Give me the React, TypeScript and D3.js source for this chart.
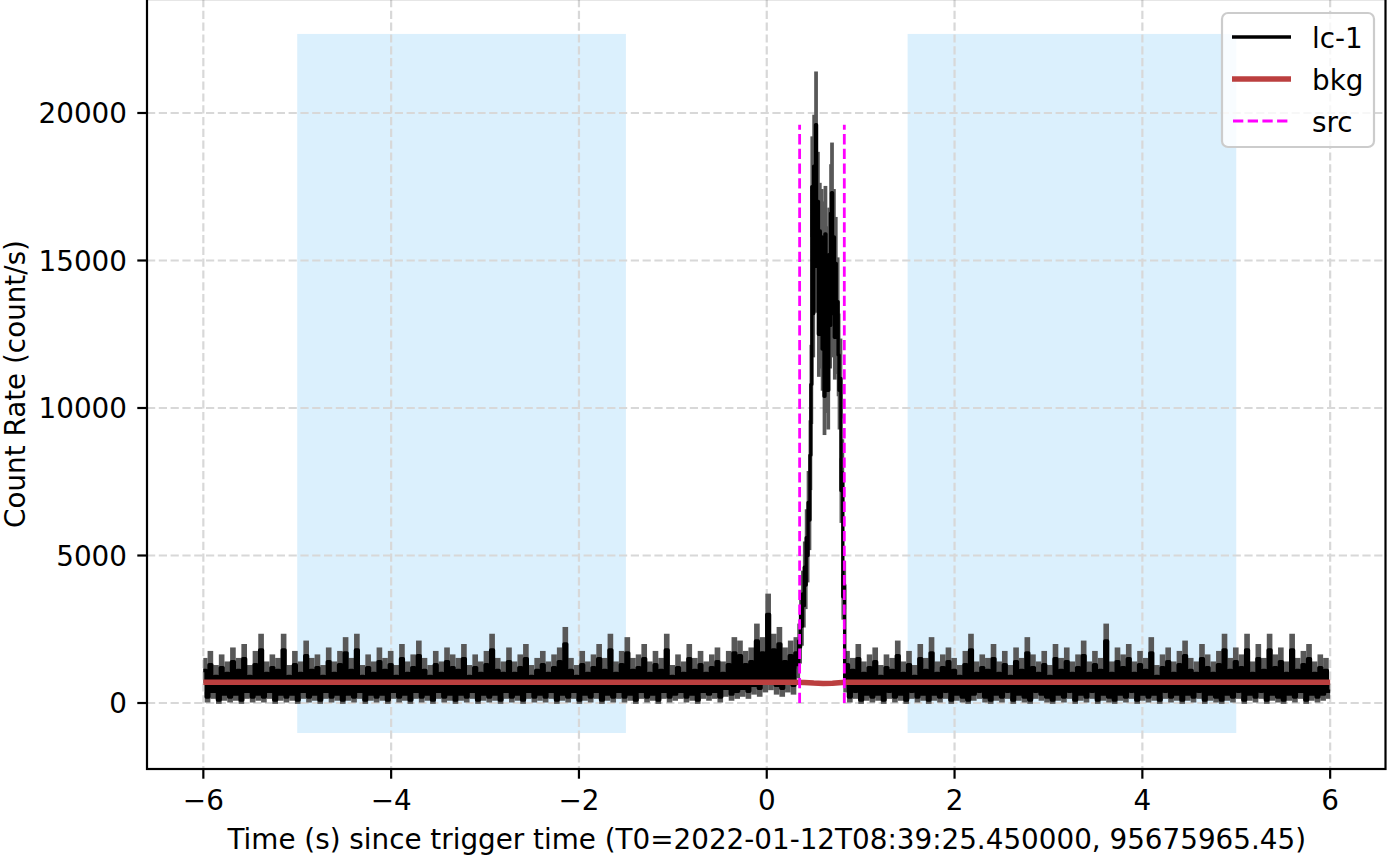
import React from "react";
import * as d3 from "d3";

// ---------------- data ----------------
// light curve "lc-1" (count/s), three contiguous segments with their own bin width
const SEG_A_START = -6.0;
const SEG_A_DT = 0.03;
const segA = [
  1100, 200, 1300, 400, 900, 100, 1200, 300, 1000, 200,
  1400, 300, 1100, 100, 1500, 400, 900, 200, 1300, 300,
  1800, 200, 1000, 400, 1200, 100, 1100, 300, 1800, 200,
  900, 300, 1300, 100, 1000, 400, 1600, 200, 1100, 300,
  1200, 100, 900, 400, 1400, 200, 1000, 300, 1300, 100,
  1700, 300, 1100, 200, 1800, 400, 900, 100, 1200, 300,
  1000, 200, 1400, 300, 1100, 100, 1300, 400, 900, 200,
  1500, 300, 1000, 100, 1200, 400, 1600, 200, 1100, 300,
  900, 100, 1300, 400, 1000, 200, 1400, 300, 1200, 100,
  1100, 300, 1500, 200, 900, 400, 1200, 100, 1000, 300,
  1300, 200, 1800, 300, 1100, 100, 1000, 400, 1400, 200,
  1000, 300, 1200, 100, 1500, 400, 900, 200, 1100, 300,
  1300, 200, 1000, 400, 1200, 100, 1400, 300, 2000, 200,
  1100, 400, 900, 100, 1300, 300, 1000, 200, 1200, 400,
  1500, 100, 1100, 300, 1800, 200, 1000, 400, 1300, 200,
  1700, 300, 1100, 100, 1200, 400, 1500, 200, 1000, 300,
  1300, 100, 1100, 400, 1800, 200, 900, 300, 1200, 400,
  1000, 200, 1500, 300, 1100, 100, 1300, 400, 1000, 300,
  1200, 400, 1400, 200, 1000, 500, 1300, 300, 1700, 400,
  1600, 500, 1300, 400, 1400, 600, 2100, 500, 1700, 700,
  3000, 800, 1800, 600, 2000, 500, 1400, 700, 1600, 600,
  1700,
];

const SEG_B_START = 0.33;
const SEG_B_DT = 0.01;
const segB = [
  1300, 2100, 1900, 3000, 2600, 3700, 3300, 4600, 4000, 5600,
  5000, 6800, 6200, 8400, 10800, 17500, 13200, 18200, 14800, 19600,
  15500, 17000, 12500, 16000, 12800, 15800, 12000, 15400, 10400, 15900,
  11200, 14600, 10600, 15200, 12800, 16600, 17300, 13200, 15800, 12400,
  14900, 12600, 13600, 11800, 10600, 11000, 7200, 7800, 3600, 4000,
  700,
];

const SEG_C_START = 0.84;
const SEG_C_DT = 0.03;
const segC = [
  1300, 200, 1100, 400, 1500, 100, 1000, 300, 1200, 200,
  1400, 300, 900, 100, 1200, 400, 1100, 200, 1600, 300,
  1000, 100, 1300, 400, 900, 200, 1500, 300, 1100, 100,
  1700, 300, 1000, 200, 1200, 400, 1400, 100, 1100, 300,
  900, 200, 1300, 100, 1800, 300, 1000, 400, 1200, 200,
  1100, 100, 1500, 300, 1000, 200, 1300, 400, 900, 100,
  1400, 300, 1100, 200, 1700, 100, 1200, 400, 1000, 300,
  1300, 200, 900, 100, 1500, 300, 1100, 200, 1400, 400,
  1000, 100, 1200, 300, 1600, 200, 1000, 400, 1300, 100,
  1100, 300, 2100, 200, 1000, 100, 1400, 300, 1200, 200,
  1500, 400, 1000, 100, 1300, 300, 1100, 200, 1700, 300,
  900, 100, 1200, 400, 1400, 200, 1000, 300, 1300, 100,
  1600, 300, 1100, 200, 1000, 400, 1500, 100, 1200, 300,
  1000, 200, 1300, 100, 1800, 300, 1100, 200, 1400, 400,
  1200, 100, 1800, 300, 1000, 200, 1500, 400, 1100, 100,
  1800, 300, 1200, 200, 1400, 100, 1000, 300, 1800, 200,
  1100, 400, 1300, 100, 1500, 300, 1000, 200, 1200, 300,
  1100, 400,
];

// exposure of the original (fine) bins used for the Poisson error bars
const BIN_EXPOSURE = 0.006;

// background fit (count/s)
const bkgTimes = [-6, 0.3, 0.4, 0.5, 0.6, 0.7, 0.8, 0.86, 6];
const bkgRates = [705, 705, 695, 675, 665, 670, 695, 705, 705];

// selected intervals
const srcInterval = [0.35, 0.826];
const bkgIntervals = [
  [-5, -1.5],
  [1.5, 5],
];
const bkgSpanRates = [-1017, 22680];

const xTicks = [-6, -4, -2, 0, 2, 4, 6];
const yTicks = [0, 5000, 10000, 15000, 20000];
const xLabel =
  "Time (s) since trigger time (T0=2022-01-12T08:39:25.450000, 95675965.45)";
const yLabel = "Count Rate (count/s)";
const legendLabels = ["lc-1", "bkg", "src"];

// ---------------- layout ----------------
const W = 1387;
const H = 856;
const PL = 147;
const PR = 1386.5;
const PT = -1;
const PB = 769;
const FONT = "'DejaVu Sans', 'Liberation Sans', sans-serif";
const FS = 27.8;

type Bin = { t0: number; t1: number; v: number; pad: number };

function makeBins(start: number, dt: number, vals: number[], pad: number): Bin[] {
  return vals.map((v, i) => ({
    t0: +(start + i * dt).toFixed(4),
    t1: +(start + (i + 1) * dt).toFixed(4),
    v,
    pad: pad * dt,
  }));
}

export default function App() {
  const bins: Bin[] = [
    ...makeBins(SEG_A_START, SEG_A_DT, segA, 0.5),
    ...makeBins(SEG_B_START, SEG_B_DT, segB, 1.5),
    ...makeBins(SEG_C_START, SEG_C_DT, segC, 0.5),
  ];

  const x = d3.scaleLinear().domain([-6.6, 6.6]).range([PL, PR]);
  const y = d3.scaleLinear().domain([-2237, 23864]).range([PB, PT]);

  const err = (v: number) => Math.sqrt(Math.max(v, 0) / BIN_EXPOSURE);

  const stepPts: [number, number][] = bins.map((b) => [b.t0, b.v]);
  const last = bins[bins.length - 1];
  stepPts.push([last.t1, last.v]);
  const stepLine = d3
    .line<[number, number]>()
    .x((d) => x(d[0]))
    .y((d) => y(d[1]))
    .curve(d3.curveStepAfter);

  const bkgLine = d3
    .line<number>()
    .x((_, i) => x(bkgTimes[i]))
    .y((d) => y(d));

  const srcTop = d3.max(bins, (b) => b.v) as number;
  const tMin = bins[0].t0;
  const tMax = last.t1;

  const gridColor = "#d8d8d8";
  const gray = "#585858";
  const red = "#bb3f3f";
  const magenta = "#ff00ff";

  // legend
  const lgX = 1222;
  const lgY = 13;
  const lgW = 152;
  const lgH = 134;
  const handleY = [37, 79, 121];

  return (
    <div style={{ position: "absolute", left: 0, top: 0 }}>
      <svg width={W} height={H} style={{ display: "block", background: "#fff" }}>
        <defs>
          <clipPath id="plotclip">
            <rect x={PL} y={PT} width={PR - PL} height={PB - PT} />
          </clipPath>
        </defs>
        <rect x={0} y={0} width={W} height={H} fill="#fff" />
        <g clipPath="url(#plotclip)">
          {/* background intervals */}
          {bkgIntervals.map((iv, i) => (
            <rect
              key={"span" + i}
              x={x(iv[0])}
              y={y(bkgSpanRates[1])}
              width={x(iv[1]) - x(iv[0])}
              height={y(bkgSpanRates[0]) - y(bkgSpanRates[1])}
              fill="rgb(219,240,253)"
            />
          ))}
          {/* grid */}
          {xTicks.map((t) => (
            <line
              key={"gx" + t}
              x1={x(t)}
              x2={x(t)}
              y1={PT}
              y2={PB}
              stroke={gridColor}
              strokeWidth={2.2}
              strokeDasharray="8.2 3.6"
            />
          ))}
          {yTicks.map((t) => (
            <line
              key={"gy" + t}
              x1={PL}
              x2={PR}
              y1={y(t)}
              y2={y(t)}
              stroke={gridColor}
              strokeWidth={2.2}
              strokeDasharray="8.2 3.6"
            />
          ))}
          {/* error bars */}
          {bins.map((b, i) => {
            const e = err(b.v);
            const a = Math.max(b.t0 - b.pad, tMin);
            const c = Math.min(b.t1 + b.pad, tMax);
            return (
              <rect
                key={"e" + i}
                x={x(a)}
                y={y(b.v + e)}
                width={x(c) - x(a)}
                height={y(b.v - e) - y(b.v + e)}
                fill={gray}
              />
            );
          })}
          {/* light curve */}
          <path
            d={stepLine(stepPts) || ""}
            fill="none"
            stroke="#000"
            strokeWidth={3.4}
            strokeLinejoin="round"
          />
          {/* background fit */}
          <path
            d={bkgLine(bkgRates) || ""}
            fill="none"
            stroke={red}
            strokeWidth={5.5}
            strokeLinejoin="round"
          />
          {/* src interval */}
          {srcInterval.map((t, i) => (
            <line
              key={"src" + i}
              x1={x(t)}
              x2={x(t)}
              y1={y(0)}
              y2={y(srcTop)}
              stroke={magenta}
              strokeWidth={2.8}
              strokeDasharray="10.3 4.4"
            />
          ))}
        </g>

        {/* spines */}
        <rect
          x={PL}
          y={PT}
          width={PR - PL - 1}
          height={PB - PT}
          fill="none"
          stroke="#000"
          strokeWidth={2.2}
        />

        {/* x ticks */}
        {xTicks.map((t) => (
          <g key={"xt" + t}>
            <line x1={x(t)} x2={x(t)} y1={PB} y2={PB + 9.7} stroke="#000" strokeWidth={2.2} />
            <text
              x={x(t)}
              y={810}
              textAnchor="middle"
              fontFamily={FONT}
              fontSize={FS}
              fill="#000"
            >
              {t < 0 ? "\u2212" + Math.abs(t) : String(t)}
            </text>
          </g>
        ))}
        {/* y ticks */}
        {yTicks.map((t) => (
          <g key={"yt" + t}>
            <line x1={PL - 9.7} x2={PL} y1={y(t)} y2={y(t)} stroke="#000" strokeWidth={2.2} />
            <text
              x={127}
              y={y(t) + 10.3}
              textAnchor="end"
              fontFamily={FONT}
              fontSize={FS}
              fill="#000"
            >
              {String(t)}
            </text>
          </g>
        ))}

        {/* axis labels */}
        <text
          x={(PL + PR) / 2}
          y={849}
          textAnchor="middle"
          fontFamily={FONT}
          fontSize={FS}
          fill="#000"
        >
          {xLabel}
        </text>
        <text
          transform={`translate(25, ${(PT + PB) / 2}) rotate(-90)`}
          textAnchor="middle"
          fontFamily={FONT}
          fontSize={FS}
          fill="#000"
        >
          {yLabel}
        </text>

        {/* legend */}
        <rect
          x={lgX}
          y={lgY}
          width={lgW}
          height={lgH}
          rx={6}
          ry={6}
          fill="#fff"
          fillOpacity={0.8}
          stroke="#cccccc"
          strokeWidth={2.2}
        />
        <line x1={1232} x2={1291} y1={handleY[0]} y2={handleY[0]} stroke="#000" strokeWidth={3.6} />
        <line x1={1232} x2={1291} y1={handleY[1]} y2={handleY[1]} stroke={red} strokeWidth={5.5} />
        <line
          x1={1233}
          x2={1291}
          y1={handleY[2]}
          y2={handleY[2]}
          stroke={magenta}
          strokeWidth={2.8}
          strokeDasharray="10.3 4.4"
        />
        {legendLabels.map((l, i) => (
          <text
            key={l}
            x={1312}
            y={handleY[i] + 11}
            fontFamily={FONT}
            fontSize={FS}
            fill="#000"
          >
            {l}
          </text>
        ))}
      </svg>
    </div>
  );
}
